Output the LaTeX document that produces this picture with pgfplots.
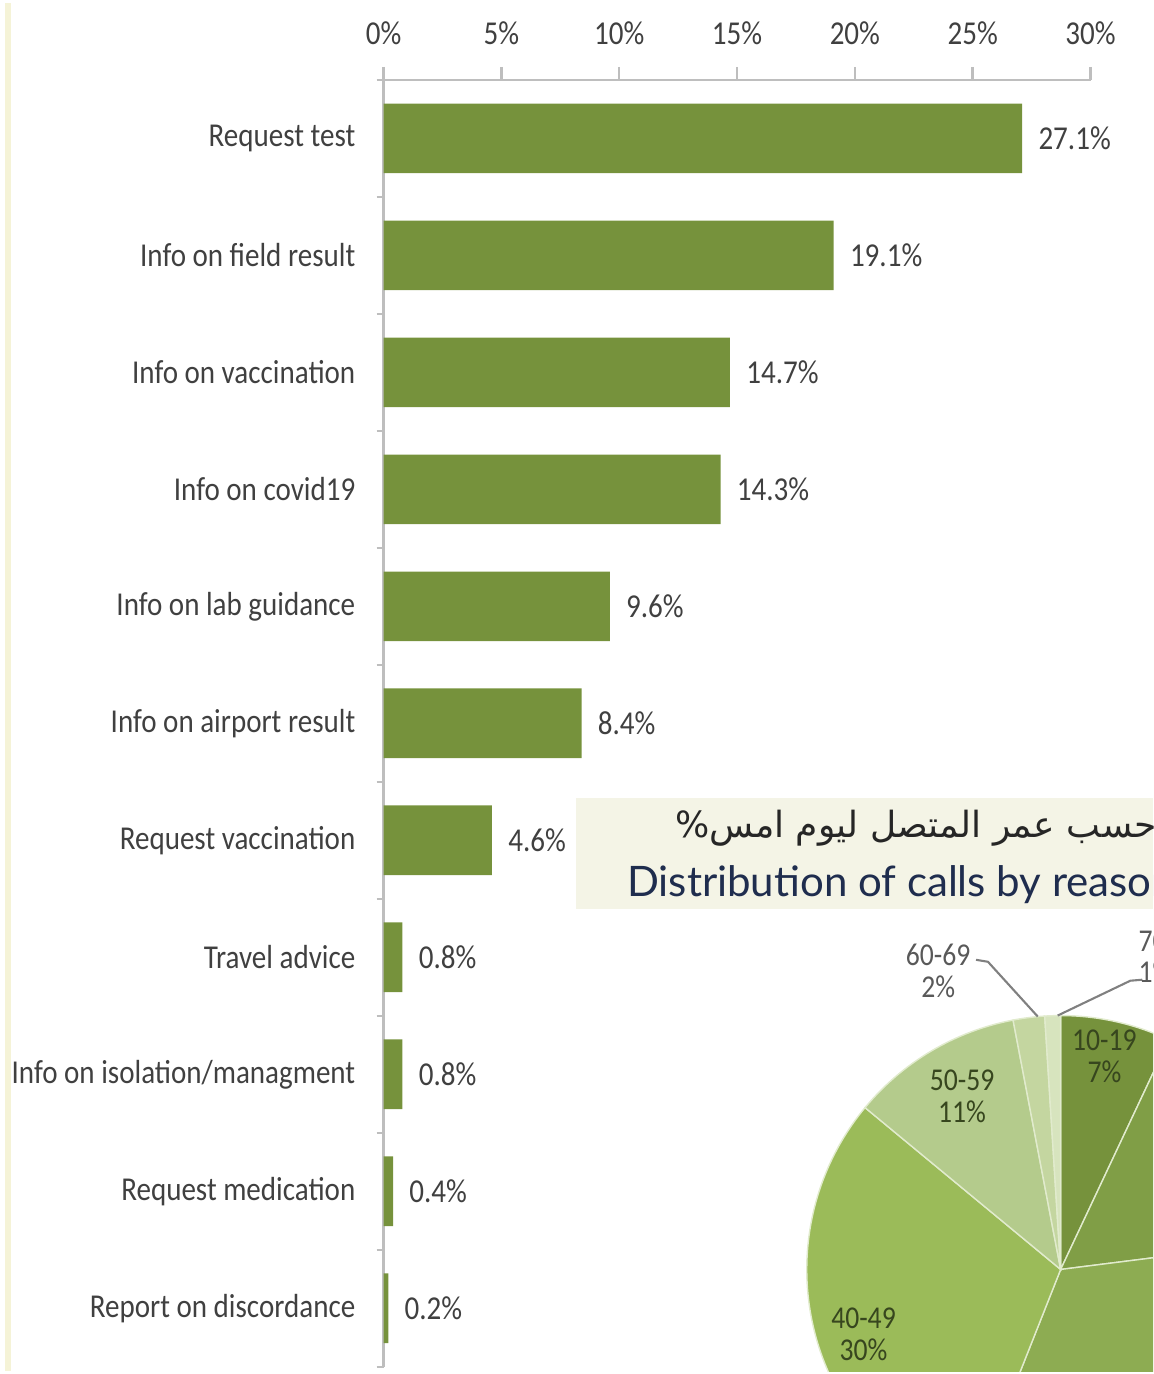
\documentclass[border=0pt]{standalone}
\usepackage{pgfplots}
\usepackage{pgfplotstable}
\pgfplotsset{compat=1.18}
\usepackage{graphicx}
\usepackage{fontspec}
\setmainfont{Carlito}
\newfontfamily\arabicfont[Script=Arabic]{DejaVu Sans}
\newfontfamily\titlefont{Lato}
\TeXXeTstate=1
\definecolor{barc}{RGB}{118,146,60}
\definecolor{txt}{RGB}{64,64,64}
\definecolor{axc}{RGB}{190,190,190}
\definecolor{boxc}{RGB}{244,244,230}
\definecolor{navy}{RGB}{31,45,78}
\definecolor{beigeline}{RGB}{245,243,215}
\definecolor{pa}{RGB}{118,146,60}
\definecolor{pb}{RGB}{128,158,70}
\definecolor{pc}{RGB}{141,172,82}
\definecolor{pd}{RGB}{155,187,89}
\definecolor{pe}{RGB}{180,203,140}
\definecolor{pf}{RGB}{196,214,160}
\definecolor{pg}{RGB}{215,228,190}
\definecolor{pielab}{RGB}{55,70,30}
\definecolor{slb}{RGB}{225,235,205}
\newcommand\st[1]{\scalebox{1}[1.15]{#1}}
% pie sector: start angle, end angle, colour (shares 7,16,33,30,11,2,1 %)
\newcommand\sector[3]{\filldraw[overlay, fill=#3, draw=slb, line width=0.4pt] (10.60,-12.72) -- ++(#1:2.55) arc[start angle=#1, end angle=#2, radius=2.55] -- cycle;}
\pgfplotstableread[row sep=\\]{
idx val\\
0 27.1\\
1 19.1\\
2 14.7\\
3 14.3\\
4 9.6\\
5 8.4\\
6 4.6\\
7 0.8\\
8 0.8\\
9 0.4\\
10 0.2\\
}\reasons
\begin{document}
\begin{tikzpicture}
\begin{axis}[
  name=bars,
  scale only axis, width=7.10cm, height=12.925cm,
  xmin=0, xmax=30, ymin=-0.5, ymax=10.5, y dir=reverse,
  enlargelimits=false,
  axis x line*=top, axis y line*=left,
  axis line style={draw=axc, line width=0.7pt},
  every tick/.style={draw=axc, line width=0.7pt},
  every major y tick/.append style={draw=none},
  tick align=outside,
  major tick length=0.13cm,
  minor tick length=0.07cm,
  xtick={0,5,...,30},
  xticklabels={\st{0\%},\st{5\%},\st{10\%},\st{15\%},\st{20\%},\st{25\%},\st{30\%}},
  ytick={0,...,10},
  yticklabels={\st{Request test},\st{Info on field result},\st{Info on vaccination},\st{Info on covid19},\st{Info on lab guidance},\st{Info on airport result},\st{Request vaccination},\st{Travel advice},\st{Info on isolation/managment},\st{Request medication},\st{Report on discordance}},
  minor ytick={-0.5,0.5,...,10.5},
  ticklabel style={font=\fontsize{8.3}{10}\selectfont, text=txt},
  xticklabel style={yshift=0.1cm},
  yticklabel style={xshift=-0.03cm},
  /pgf/number format/assume math mode=true,
  xbar, bar width=0.70cm, bar shift=0pt,
  point meta=x,
  nodes near coords={\st{\pgfmathprintnumber[fixed,precision=1,fixed zerofill]{\pgfplotspointmeta}\%}},
  nodes near coords style={font=\fontsize{8.3}{10}\selectfont, text=txt, anchor=west, xshift=0.04cm},
  clip=false,
]
\addplot[fill=barc, draw=none] table[x=val, y=idx] {\reasons};
\end{axis}
\begin{scope}[shift={(bars.north west)}]
\begin{scope}[shift={(-3.80,0.7725)}]
\path (0,0) rectangle (11.53,-13.74);
\draw[beigeline, line width=0.06cm] (0.03,0) -- (0.03,-13.74);
\begin{scope}
\clip (0,0) rectangle (11.53,-13.74);
\fill[boxc] (5.73,-7.98) rectangle (11.53,-9.10);
\node[overlay, anchor=west, inner sep=0pt, font=\arabicfont\fontsize{10.3}{12}\selectfont, text=black!85] at (6.72,-8.29)
  {\beginR توزيع المكالمات حسب عمر المتصل ليوم امس\%\endR};
\node[overlay, anchor=base west, inner sep=0pt, font=\titlefont\fontsize{12}{14}\selectfont, text=navy] at (6.24,-8.97)
  {Distribution of calls by reason};
\sector{90}{64.8}{pa}
\sector{64.8}{7.2}{pb}
\sector{7.2}{-111.6}{pc}
\sector{-111.6}{-219.6}{pd}
\sector{-219.6}{-259.2}{pe}
\sector{-259.2}{-266.4}{pf}
\sector{-266.4}{-270}{pg}
\draw[gray, line width=0.6pt] (9.75,-9.61) -- (9.87,-9.63) -- (10.37,-10.18);
\draw[gray, line width=0.6pt] (11.42,-9.81) -- (11.30,-9.82) -- (10.57,-10.17);
\node[font=\fontsize{7.9}{9}\selectfont, text=black!65, align=center] at (9.37,-9.72) {\st{60-69}\\\st{2\%}};
\node[overlay, anchor=west, font=\fontsize{7.9}{9}\selectfont, text=black!65, align=left] at (11.26,-9.58) {\st{70+}\\\st{1\%}};
\node[font=\fontsize{7.9}{9}\selectfont, text=pielab, align=center] at (11.04,-10.58) {\st{10-19}\\\st{7\%}};
\node[font=\fontsize{7.9}{9}\selectfont, text=pielab, align=center] at (9.61,-10.98) {\st{50-59}\\\st{11\%}};
\node[font=\fontsize{7.9}{9}\selectfont, text=pielab, align=center] at (8.62,-13.37) {\st{40-49}\\\st{30\%}};
\end{scope}
\end{scope}
\end{scope}
\end{tikzpicture}
\end{document}
